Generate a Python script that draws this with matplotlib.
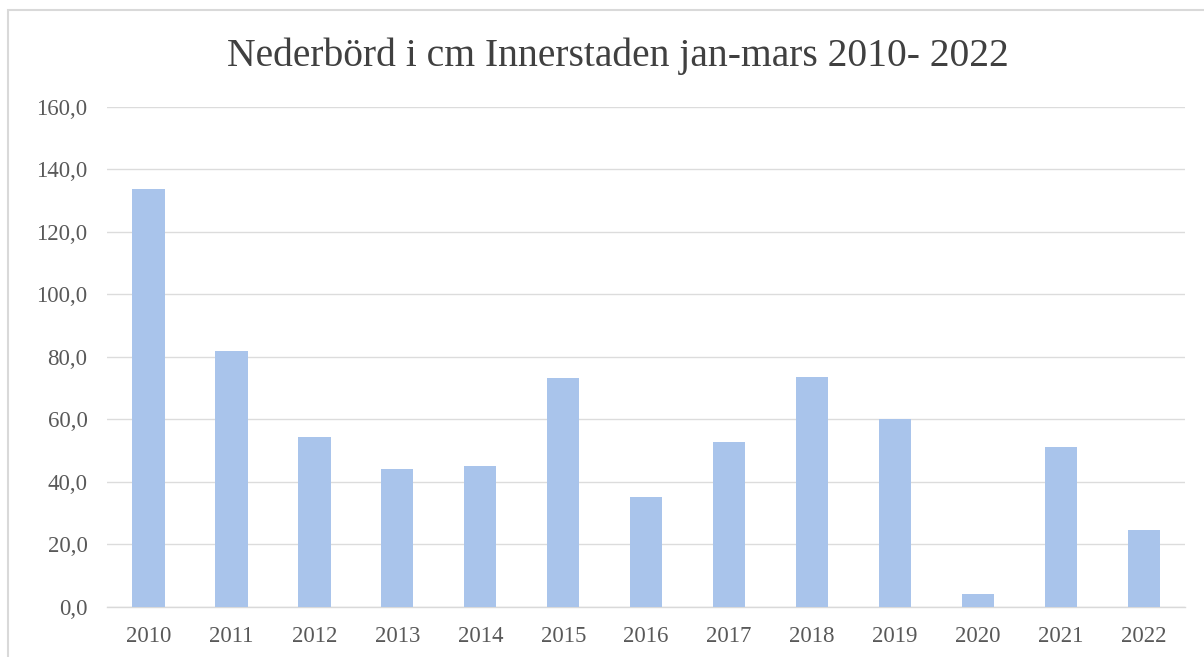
import matplotlib.pyplot as plt
from matplotlib.patches import Rectangle
from matplotlib.ticker import FuncFormatter

# Nederbörd (cm) jan-mars per år
ar = ["2010", "2011", "2012", "2013", "2014", "2015", "2016",
      "2017", "2018", "2019", "2020", "2021", "2022"]
nederbord = [133.6, 81.9, 54.4, 44.0, 45.0, 73.3, 35.2,
             52.8, 73.6, 60.2, 4.0, 51.2, 24.5]
y_ticks = [0, 20, 40, 60, 80, 100, 120, 140, 160]

titel = "Nederbörd i cm Innerstaden jan-mars 2010- 2022"

plt.rcParams["font.family"] = ["Liberation Serif", "DejaVu Serif"]

fig = plt.figure(figsize=(12.04, 6.57), dpi=100)
ax = fig.add_axes([0.0889, 0.0766, 0.8955, 0.761])

# ram runt diagrammet
fig.patches.append(Rectangle((8 / 1204, -0.1), 1.2, 1 - 10 / 657 + 0.1,
                             transform=fig.transFigure, fill=False,
                             edgecolor="#d9d9d9", linewidth=1.5))

x = list(range(len(ar)))
ax.bar(x, nederbord, width=0.39, color="#a9c4eb", zorder=3)

ax.set_xlim(-0.5, len(ar) - 0.5)
ax.set_ylim(0, 160)
ax.set_yticks(y_ticks)
ax.yaxis.set_major_formatter(FuncFormatter(lambda v, p: f"{v:.1f}".replace(".", ",")))
ax.set_xticks(x)
ax.set_xticklabels(ar)

ax.grid(axis="y", color="#dcdcdc", linewidth=1.0, zorder=0)
for s in ["top", "right", "left"]:
    ax.spines[s].set_visible(False)
ax.spines["bottom"].set_color("#d9d9d9")
ax.spines["bottom"].set_linewidth(1.0)

ax.tick_params(axis="both", length=0, colors="#595959", labelsize=16.5)
ax.tick_params(axis="y", pad=14)
ax.tick_params(axis="x", pad=14)

fig.text(0.5135, 0.915, titel, ha="center", va="center", fontsize=28.5, color="#404040")

fig.savefig("out.png", dpi=100, facecolor="white")
